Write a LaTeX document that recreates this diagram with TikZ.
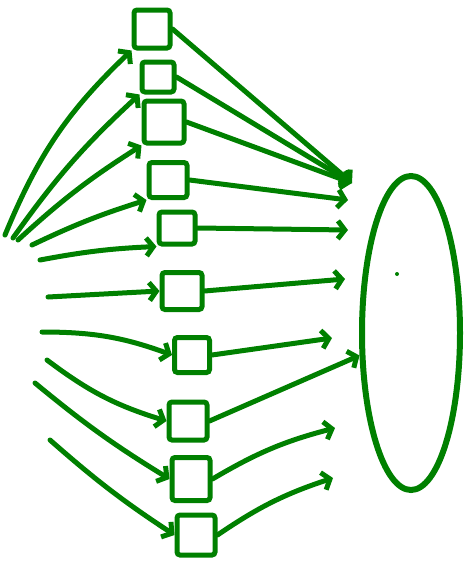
\documentclass[tikz,border=0pt]{standalone}
\usepackage{tikz}
\usetikzlibrary{shapes.geometric, arrows.meta, positioning}
\definecolor{inkgreen}{RGB}{0, 128, 0}
\tikzset{
  unit/.style={rectangle, rounded corners=3pt, draw=inkgreen, line width=5pt,
              minimum width=#1, minimum height=36pt, inner sep=0pt},
  unit/.default=38pt,
  pool/.style={ellipse, draw=inkgreen, line width=6pt, minimum width=98pt,
              minimum height=314pt, inner sep=0pt},
  arrow/.style={-{Straight Barb[length=7pt, width=18pt]}, line width=5pt,
              color=inkgreen, line cap=round, line join=round},
}

\begin{document}
\begin{tikzpicture}[x=1pt, y=-1pt]
  \useasboundingbox (0,0) rectangle (473,562);

  % the column of small boxes
  \node[unit=36pt, minimum height=38pt] (u1) at (152,29) {};
  \node[unit=32pt, minimum height=30pt] (u2) at (158,77) {};
  \node[unit=40pt, minimum height=42pt] (u3) at (164,122) {};
  \node[unit=38pt, minimum height=35pt] (u4) at (168,180) {};
  \node[unit=36pt, minimum height=32pt] (u5) at (177,228) {};
  \node[unit=40pt, minimum height=37pt] (u6) at (182,291) {};
  \node[unit=35pt, minimum height=35pt] (u7) at (192,355) {};
  \node[unit=38pt, minimum height=38pt] (u8) at (188,421) {};
  \node[unit=38pt, minimum height=43pt] (u9) at (191,479) {};
  \node[unit=38pt, minimum height=40pt] (u10) at (196,535) {};

  % the big ellipse and its dot
  \node[pool] (sink) at (411,333) {};
  \fill[inkgreen] (397,274) circle (2pt);

  % loose ends of the arrows
  \coordinate (in1) at (5,235);
  \coordinate (in2) at (13,238);
  \coordinate (in3) at (18,240);
  \coordinate (in4) at (32,245);
  \coordinate (in5) at (40,260);
  \coordinate (in6) at (48,297);
  \coordinate (in7) at (42,332);
  \coordinate (in8) at (47,360);
  \coordinate (in9) at (35,383);
  \coordinate (in10) at (50,440);
  \coordinate (hub) at (352,183);
  \coordinate (out4) at (348,200);
  \coordinate (out5) at (348,230);
  \coordinate (out6) at (345,279);
  \coordinate (out7) at (332,338);
  \coordinate (out9) at (335,428);
  \coordinate (out10) at (333,478);

  % arrows into the boxes
  \draw[arrow] (in1) to[bend left=12] (u1.south west);
  \draw[arrow] (in2) to[bend left=6] (u2.south west);
  \draw[arrow] (in3) to[bend left=5] (u3.south west);
  \draw[arrow] (in4) to[bend left=4] (u4.south west);
  \draw[arrow] (in5) to[bend left=4] (u5.south west);
  \draw[arrow] (in6) -- (u6.west);
  \draw[arrow] (in7) to[bend left=10] (u7.west);
  \draw[arrow] (in8) to[bend right=10] (u8.west);
  \draw[arrow] (in9) to[bend right=4] (u9.west);
  \draw[arrow] (in10) to[bend right=4] (u10.west);

  % arrows out to the ellipse
  \draw[arrow] (u1.east) -- (hub);
  \draw[arrow] (u2.east) -- (hub);
  \draw[arrow] (u3.east) -- (hub);
  \draw[arrow] (u4.east) -- (out4);
  \draw[arrow] (u5.east) -- (out5);
  \draw[arrow] (u6.east) -- (out6);
  \draw[arrow] (u7.east) -- (out7);
  \draw[arrow] (u8.east) -- (sink);
  \draw[arrow] (u9.east) to[bend left=8] (out9);
  \draw[arrow] (u10.east) to[bend left=8] (out10);
\end{tikzpicture}
\end{document}
